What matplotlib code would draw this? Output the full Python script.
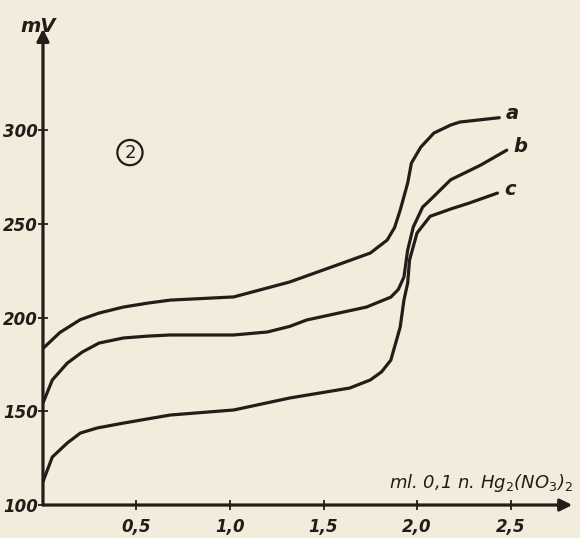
import matplotlib.pyplot as plt

# curve a
ml_a = [0, 0.09, 0.2, 0.3, 0.43, 0.56, 0.68, 1.02, 1.32, 1.6, 1.75, 1.84, 1.88, 1.91, 1.95, 1.97,
        2.02, 2.09, 2.18, 2.23, 2.44]
mv_a = [183.5, 192, 198.9, 202.4, 205.6, 207.7, 209.3, 211, 219, 229, 234.4, 241.3, 248, 257.3, 271.7, 282.4,
        290.9, 298.4, 302.7, 304.3, 306.6]
# curve b
ml_b = [0, 0.05, 0.13, 0.21, 0.3, 0.43, 0.56, 0.68, 1.02, 1.2, 1.32, 1.41, 1.73, 1.86, 1.9, 1.93,
        1.95, 1.98, 2.03, 2.07, 2.18, 2.34, 2.48]
mv_b = [154.4, 166.7, 175.7, 181.6, 186.4, 189.1, 190.1, 190.7, 190.7, 192.3, 195.3, 198.7, 205.6, 210.9, 215, 221.6,
        236, 248.3, 258.9, 262.7, 273.5, 281.3, 289.3]
# curve c
ml_c = [0, 0.05, 0.13, 0.2, 0.29, 0.43, 0.68, 1.02, 1.32, 1.64, 1.75, 1.81, 1.86, 1.91, 1.93, 1.95,
        1.96, 2.0, 2.07, 2.18, 2.28, 2.43]
mv_c = [112.5, 125.6, 133.1, 138.4, 141.1, 143.7, 148, 150.7, 157.1, 162.4, 166.7, 171, 177.3, 194.9, 209.3, 218.4,
        230.7, 245.1, 254, 257.9, 261.1, 266.4]

curves = [(ml_a, mv_a, 'a'), (ml_b, mv_b, 'b'), (ml_c, mv_c, 'c')]
xticks = [0.5, 1.0, 1.5, 2.0, 2.5]
xtick_labels = ['0,5', '1,0', '1,5', '2,0', '2,5']
yticks = [100, 150, 200, 250, 300]

ink = '#241c18'
paper = '#f3ecdc'

fig = plt.figure(figsize=(5.8, 5.38), dpi=100, facecolor=paper)
ax = fig.add_axes([0.0741, 0.0613, 0.919, 0.906])
ax.set_facecolor(paper)
ax.set_xlim(0, 2.85)
ax.set_ylim(100, 360)

for x, y, name in curves:
    ax.plot(x, y, color=ink, lw=2.3, solid_capstyle='round', solid_joinstyle='round')
    ax.text(x[-1] + 0.035, y[-1] + 2, name, fontsize=14, fontweight='bold',
            style='italic', color=ink, va='center', ha='left')

for s in ['top', 'right', 'left', 'bottom']:
    ax.spines[s].set_visible(False)

# axes with arrows
ax.annotate('', xy=(2.83, 100), xytext=(0, 100), annotation_clip=False,
            arrowprops=dict(arrowstyle='-|>', lw=2.3, color=ink, mutation_scale=18,
                            shrinkA=0, shrinkB=0))
ax.annotate('', xy=(0, 354), xytext=(0, 100), annotation_clip=False,
            arrowprops=dict(arrowstyle='-|>', lw=2.3, color=ink, mutation_scale=18,
                            shrinkA=0, shrinkB=0))

ax.set_xticks(xticks)
ax.set_xticklabels(xtick_labels)
ax.set_yticks(yticks)
ax.tick_params(direction='inout', length=7, width=1.3, color=ink, labelcolor=ink,
               labelsize=12)
ax.tick_params(axis='x', pad=6)
ax.tick_params(axis='y', pad=0)
for lab in ax.get_xticklabels() + ax.get_yticklabels():
    lab.set_fontweight('bold')
    lab.set_fontstyle('italic')

ax.text(-0.025, 350, 'mV', fontsize=14, fontweight='bold', style='italic',
        color=ink, ha='center', va='bottom', clip_on=False)
ax.text(2.834, 111.7, 'ml. 0,1 n. Hg$_2$(NO$_3$)$_2$', fontsize=13, style='italic',
        color=ink, ha='right', va='center')
ax.text(0.465, 288, '2', fontsize=13, color=ink, ha='center', va='center',
        bbox=dict(boxstyle='circle,pad=0.2', fc='none', ec=ink, lw=1.6))

fig.savefig('out.png', dpi=100, facecolor=paper)
